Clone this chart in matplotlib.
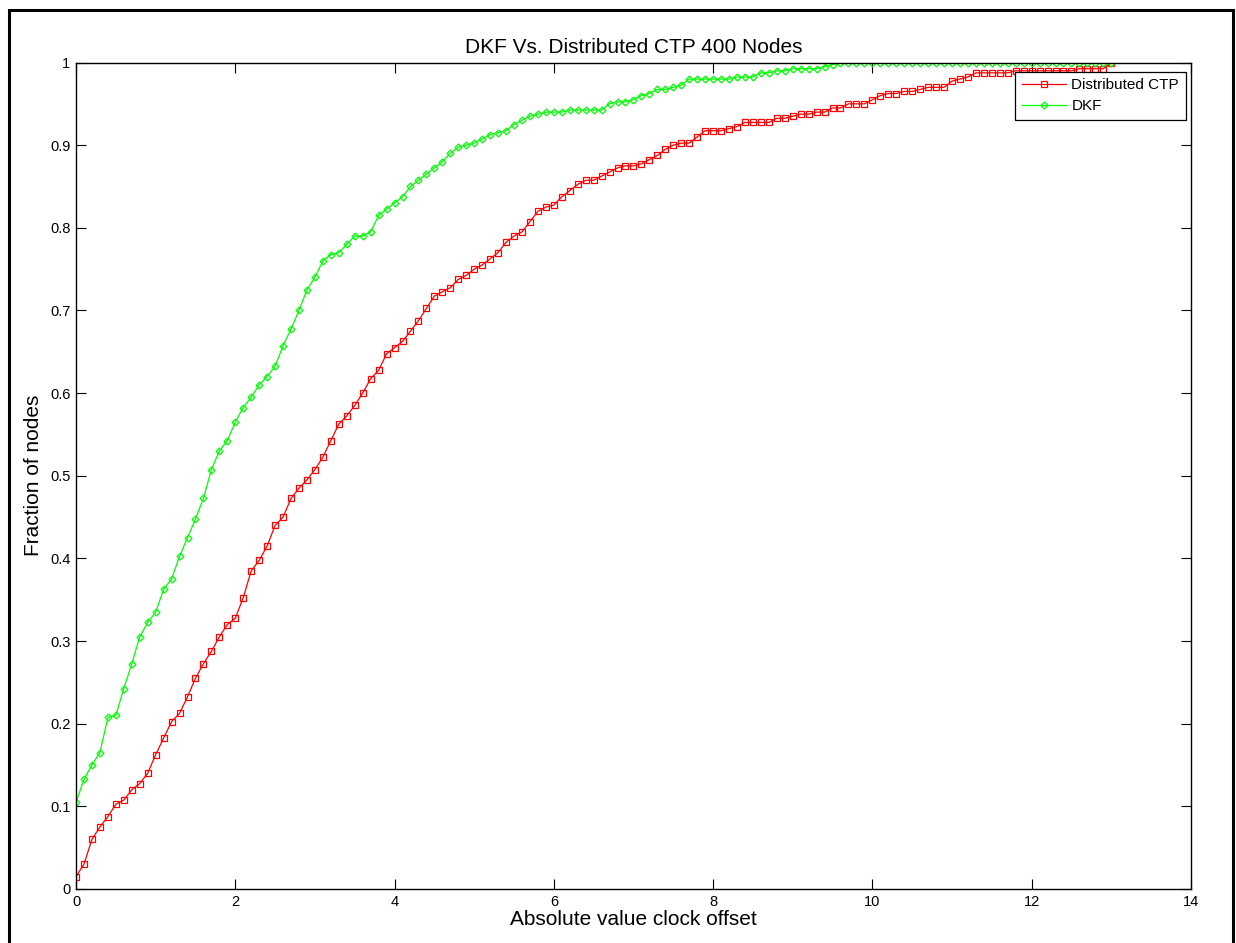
import numpy as np
import matplotlib

matplotlib.use('Agg')
import matplotlib.pyplot as plt
from matplotlib.patches import Rectangle

plt.rcParams['font.family'] = ['Liberation Sans', 'DejaVu Sans']

# offsets sampled every 0.1 from 0 to 13
offset = np.round(np.arange(0, 131) * 0.1, 1)

ctp = [0.015, 0.03, 0.06, 0.075, 0.0875, 0.1025, 0.1075, 0.12, 0.1275, 0.14,
       0.1625, 0.1825, 0.2025, 0.2125, 0.2325, 0.255, 0.2725, 0.2875, 0.305, 0.32,
       0.3275, 0.3525, 0.385, 0.3975, 0.415, 0.44, 0.45, 0.4725, 0.485, 0.495,
       0.5075, 0.5225, 0.5425, 0.5625, 0.5725, 0.585, 0.6, 0.6175, 0.6275, 0.6475,
       0.655, 0.6625, 0.675, 0.6875, 0.7025, 0.7175, 0.7225, 0.7275, 0.7375, 0.7425,
       0.75, 0.755, 0.7625, 0.77, 0.7825, 0.79, 0.795, 0.8075, 0.82, 0.825,
       0.8275, 0.8375, 0.845, 0.8525, 0.8575, 0.8575, 0.8625, 0.8675, 0.8725, 0.875,
       0.875, 0.8775, 0.8825, 0.8875, 0.895, 0.9, 0.9025, 0.9025, 0.91, 0.9175,
       0.9175, 0.9175, 0.92, 0.9225, 0.9275, 0.9275, 0.9275, 0.9275, 0.9325, 0.9325,
       0.935, 0.9375, 0.9375, 0.94, 0.94, 0.945, 0.945, 0.95, 0.95, 0.95,
       0.955, 0.96, 0.9625, 0.9625, 0.965, 0.965, 0.9675, 0.97, 0.97, 0.97,
       0.9775, 0.98, 0.9825, 0.9875, 0.9875, 0.9875, 0.9875, 0.9875, 0.99, 0.99,
       0.99, 0.99, 0.99, 0.99, 0.99, 0.99, 0.9925, 0.9925, 0.9925, 0.9925,
       1.0]

dkf = [0.105, 0.1325, 0.15, 0.165, 0.2075, 0.21, 0.2425, 0.2725, 0.305, 0.3225,
       0.335, 0.3625, 0.375, 0.4025, 0.425, 0.4475, 0.4725, 0.5075, 0.53, 0.5425,
       0.565, 0.5825, 0.595, 0.61, 0.62, 0.6325, 0.6575, 0.6775, 0.7, 0.725,
       0.74, 0.76, 0.7675, 0.77, 0.78, 0.79, 0.79, 0.795, 0.815, 0.8225,
       0.83, 0.8375, 0.85, 0.8575, 0.865, 0.8725, 0.88, 0.89, 0.8975, 0.9,
       0.9025, 0.9075, 0.9125, 0.915, 0.9175, 0.925, 0.93, 0.935, 0.9375, 0.94,
       0.94, 0.94, 0.9425, 0.9425, 0.9425, 0.9425, 0.9425, 0.95, 0.9525, 0.9525,
       0.955, 0.96, 0.9625, 0.9675, 0.9675, 0.97, 0.9725, 0.98, 0.98, 0.98,
       0.98, 0.98, 0.98, 0.9825, 0.9825, 0.9825, 0.9875, 0.9875, 0.99, 0.99,
       0.9925, 0.9925, 0.9925, 0.9925, 0.995, 0.9975] + [1.0] * 35

x_ticks = [0, 2, 4, 6, 8, 10, 12, 14]
y_ticks = [0, 0.1, 0.2, 0.3, 0.4, 0.5, 0.6, 0.7, 0.8, 0.9, 1]
y_tick_labels = ['0', '0.1', '0.2', '0.3', '0.4', '0.5', '0.6', '0.7', '0.8', '0.9', '1']

fig = plt.figure(figsize=(12.36, 9.43), dpi=100)
ax = fig.add_axes([0.0615, 0.0573, 0.902, 0.8764])

ax.plot(offset, ctp, color='#ff0000', linewidth=0.9, marker='s', markersize=4.5,
        markerfacecolor='none', markeredgewidth=0.9, label='Distributed CTP')
ax.plot(offset, dkf, color='#00ff00', linewidth=0.9, marker='D', markersize=3.5,
        markerfacecolor='none', markeredgewidth=0.9, label='DKF')

ax.set_xlim(0, 14)
ax.set_ylim(0, 1)
ax.set_xticks(x_ticks)
ax.set_xticklabels([str(t) for t in x_ticks])
ax.set_yticks(y_ticks)
ax.set_yticklabels(y_tick_labels)
ax.tick_params(direction='in', length=7, width=0.8, top=True, right=True,
               labelsize=10.5, pad=4)
for s in ax.spines.values():
    s.set_linewidth(1.0)

ax.set_title('DKF Vs. Distributed CTP 400 Nodes', fontsize=15, pad=7)
ax.set_xlabel('Absolute value clock offset', fontsize=15, labelpad=1)
ax.set_ylabel('Fraction of nodes', fontsize=15, labelpad=5)

leg = ax.legend(loc='upper right', bbox_to_anchor=(0.9955, 0.989), fontsize=11,
                fancybox=False, edgecolor='black', framealpha=1,
                handlelength=2.9, handletextpad=0.35, borderpad=0.45,
                labelspacing=0.45, borderaxespad=0)
leg.get_frame().set_linewidth(0.9)

# black frame around the whole figure
fig.patches.append(Rectangle((0.0073, -0.02), 0.9903, 1.0094, transform=fig.transFigure,
                             fill=False, edgecolor='black', linewidth=2.2))

fig.savefig('out.png', dpi=100)
